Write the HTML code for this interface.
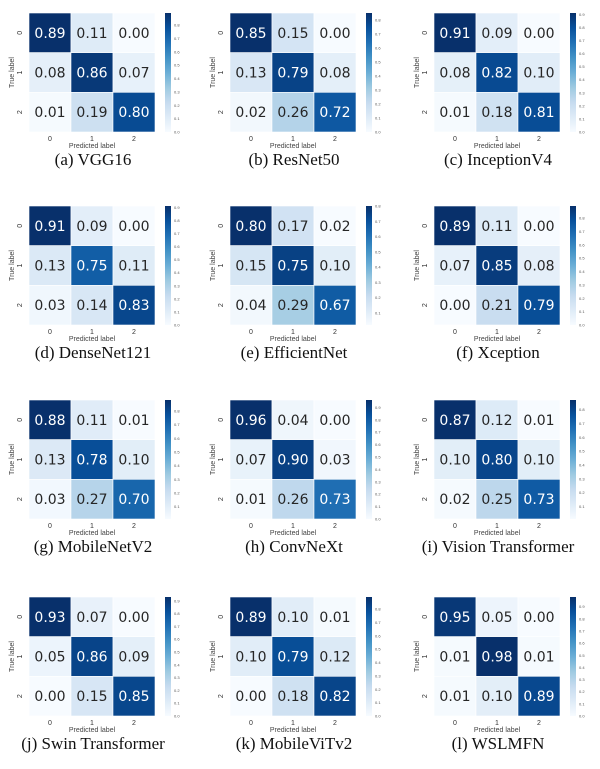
<!DOCTYPE html>
<html><head><meta charset="utf-8">
<style>
body{margin:0;background:#fff;width:600px;height:769px;overflow:hidden;font-family:"Liberation Sans",sans-serif}
svg{display:block}
</style></head>
<body>
<svg id="chart" width="600" height="769"></svg>
<script>
const models=["(a) VGG16","(b) ResNet50","(c) InceptionV4","(d) DenseNet121","(e) EfficientNet","(f) Xception","(g) MobileNetV2","(h) ConvNeXt","(i) Vision Transformer","(j) Swin Transformer","(k) MobileViTv2","(l) WSLMFN"];
const classLabels=["0","1","2"];
const matVGG16=[[0.89,0.11,0.00],[0.08,0.86,0.07],[0.01,0.19,0.80]];
const matResNet50=[[0.85,0.15,0.00],[0.13,0.79,0.08],[0.02,0.26,0.72]];
const matInceptionV4=[[0.91,0.09,0.00],[0.08,0.82,0.10],[0.01,0.18,0.81]];
const matDenseNet121=[[0.91,0.09,0.00],[0.13,0.75,0.11],[0.03,0.14,0.83]];
const matEfficientNet=[[0.80,0.17,0.02],[0.15,0.75,0.10],[0.04,0.29,0.67]];
const matXception=[[0.89,0.11,0.00],[0.07,0.85,0.08],[0.00,0.21,0.79]];
const matMobileNetV2=[[0.88,0.11,0.01],[0.13,0.78,0.10],[0.03,0.27,0.70]];
const matConvNeXt=[[0.96,0.04,0.00],[0.07,0.90,0.03],[0.01,0.26,0.73]];
const matViT=[[0.87,0.12,0.01],[0.10,0.80,0.10],[0.02,0.25,0.73]];
const matSwin=[[0.93,0.07,0.00],[0.05,0.86,0.09],[0.00,0.15,0.85]];
const matMobileViTv2=[[0.89,0.10,0.01],[0.10,0.79,0.12],[0.00,0.18,0.82]];
const matWSLMFN=[[0.95,0.05,0.00],[0.01,0.98,0.01],[0.01,0.10,0.89]];
const matrices=[matVGG16,matResNet50,matInceptionV4,matDenseNet121,matEfficientNet,matXception,matMobileNetV2,matConvNeXt,matViT,matSwin,matMobileViTv2,matWSLMFN];

const NS="http://www.w3.org/2000/svg";
const svg=document.getElementById("chart");
const blues=["#f7fbff","#deebf7","#c6dbef","#9ecae1","#6baed6","#4292c6","#2171b5","#08519c","#08306b"];
function hex(h){return [1,3,5].map(i=>parseInt(h.substr(i,2),16));}
function cmap(t){t=Math.max(0,Math.min(1,t));const p=t*(blues.length-1);const i=Math.min(Math.floor(p),blues.length-2);const f=p-i;const a=hex(blues[i]),b=hex(blues[i+1]);return "rgb("+a.map((v,k)=>Math.round(v+(b[k]-v)*f)).join(",")+")";}
function el(tag,attrs,parent){const e=document.createElementNS(NS,tag);for(const k in attrs)e.setAttribute(k,attrs[k]);(parent||svg).appendChild(e);return e;}
const colX=[29,230,434], rowY=[13,206,400,597];
const W=126,H=119;
matrices.forEach((m,idx)=>{
  const ox=colX[idx%3], oy=rowY[Math.floor(idx/3)];
  const g=el("g",{});
  
  
  const flat=m.flat();const vmin=Math.min(...flat),vmax=Math.max(...flat);
  const cw=W/3,ch=H/3;
  const xs=c=>ox+c*cw, ys=r=>oy+r*ch;
  m.forEach((row,r)=>row.forEach((v,c)=>{
    const t=(v-vmin)/(vmax-vmin);
    const rc=el("rect",{x:xs(c),y:ys(r),width:cw,height:ch,fill:cmap(t),stroke:"#fff","stroke-width":0.6},g);
    
    
    const tx=el("text",{x:xs(c)+cw/2,y:ys(r)+ch/2+5,"text-anchor":"middle","font-size":14,fill:t>0.6?"#fff":"#262626","font-family":"DejaVu Sans, Liberation Sans, sans-serif"},g);
    tx.textContent=v.toFixed(2);
    
    
  }));
  classLabels.forEach((l,i)=>{
    const xt=el("text",{x:xs(i)+cw/2,y:oy+H+9,"text-anchor":"middle","font-size":7,fill:"#333"},g);xt.textContent=l;
    
    
    const yy=ys(i)+ch/2;
    const yt=el("text",{x:ox-7,y:yy,"text-anchor":"middle","font-size":7,fill:"#333",transform:"rotate(-90 "+(ox-7)+" "+yy+")"},g);yt.textContent=l;
    
    
  });
  const xl=el("text",{x:ox+W/2,y:oy+H+16,"text-anchor":"middle","font-size":7,fill:"#444"},g);xl.textContent="Predicted label";
  
  
  const ly=oy+H/2;
  const yl=el("text",{x:ox-15,y:ly,"text-anchor":"middle","font-size":7,fill:"#444",transform:"rotate(-90 "+(ox-15)+" "+ly+")"},g);yl.textContent="True label";
  
  
  // colorbar
  const cbx=ox+W+10;
  const gid="grad"+idx;
  const defs=el("defs",{},g);
  const lg=el("linearGradient",{id:gid,x1:0,y1:1,x2:0,y2:0},defs);
  blues.forEach((b,i)=>el("stop",{offset:i/(blues.length-1),"stop-color":b},lg));
  const cb=el("rect",{x:cbx,y:oy,width:6,height:H,fill:"url(#"+gid+")"},g);
  
  
  for(let tv=0;tv<=vmax+1e-9;tv+=0.1){
    if(tv<vmin-1e-9)continue;
    const yv=oy+H-(tv-vmin)/(vmax-vmin)*H;
    const ct=el("text",{x:cbx+9,y:yv+1.5,"font-size":4,fill:"#555"},g);ct.textContent=tv.toFixed(1);
    
    
  }
  const cap=el("text",{x:ox+W/2+1,y:oy+H+33,"text-anchor":"middle","font-size":17,fill:"#111","font-family":"Liberation Serif, serif"},g);
  cap.textContent=models[idx];
  
  
});
</script>
</body></html>
